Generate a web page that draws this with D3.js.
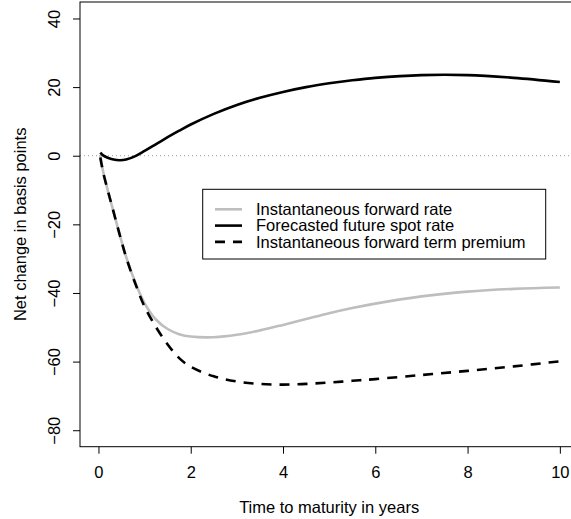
<!DOCTYPE html>
<html>
<head>
<meta charset="utf-8">
<script src="https://cdn.jsdelivr.net/npm/d3@7"></script>
<style>
  html, body { margin: 0; padding: 0; background: #fff; }
  text { font-family: "Liberation Sans", Arial, sans-serif; font-size: 16.5px; fill: #000; }
</style>
</head>
<body>
<svg id="chart"></svg>
<script>
// time to maturity (years)
var maturity = [0.04, 0.1, 0.2, 0.3, 0.46, 0.6, 0.8, 1, 1.25, 1.5, 1.75, 2, 2.5, 3, 3.5, 4, 4.5, 5, 5.5, 6, 7, 8, 9, 10];
// net change in basis points
var forwardRate = [0.3, -4.5, -10, -15, -23, -29.5, -37, -43, -47.8, -50.5, -52, -52.7, -52.9, -52.2, -50.9, -49.3, -47.6, -45.9, -44.4, -43.1, -41.0, -39.6, -38.8, -38.4];
var spotRate = [0.9, 0.1, -0.6, -1.0, -1.3, -1.1, -0.1, 1.4, 3.4, 5.4, 7.3, 9.1, 12.2, 14.8, 16.9, 18.6, 20.0, 21.1, 22.0, 22.7, 23.5, 23.5, 22.7, 21.5];
var termPremium = [-0.5, -4.7, -10, -15, -23, -29.6, -37.3, -44, -50, -55, -59, -61.5, -64.3, -65.8, -66.5, -66.7, -66.5, -66.1, -65.6, -65.1, -63.9, -62.7, -61.4, -59.9];

var xTicks = [0, 2, 4, 6, 8, 10];
var yTicks = [-80, -60, -40, -20, 0, 20, 40];
var legendLabels = ["Instantaneous forward rate", "Forecasted future spot rate", "Instantaneous forward term premium"];

const width = 571, height = 519;
const plot = {left: 80, right: 578.3, top: 2, bottom: 446.7};

var svg = d3.select("#chart")
  .attr("width", width)
  .attr("height", height)
  .attr("viewBox", [0, 0, width, height]);

var x = d3.scaleLinear().domain([-0.4, 10.4]).range([plot.left, plot.right]);
var y = d3.scaleLinear().domain([-84.8, 44.8]).range([plot.bottom, plot.top]);

// zero reference line
svg.append("line")
  .attr("x1", plot.left).attr("x2", plot.right)
  .attr("y1", y(0)).attr("y2", y(0))
  .attr("stroke", "#999")
  .attr("stroke-width", 1)
  .attr("stroke-dasharray", "1,3");

var series = [
  {name: legendLabels[0], values: forwardRate, color: "#bebebe", dash: null},
  {name: legendLabels[1], values: spotRate, color: "#000", dash: null},
  {name: legendLabels[2], values: termPremium, color: "#000", dash: "10,8"}
];

var line = d3.line()
  .x((d, i) => x(maturity[i]))
  .y(d => y(d))
  .curve(d3.curveCatmullRom.alpha(0.5));

svg.append("g")
  .selectAll("path")
  .data(series)
  .join("path")
  .attr("fill", "none")
  .attr("stroke", d => d.color)
  .attr("stroke-width", 2.6)
  .attr("stroke-dasharray", d => d.dash)
  .attr("d", d => line(d.values));

// box
svg.append("rect")
  .attr("x", plot.left).attr("y", plot.top)
  .attr("width", plot.right - plot.left)
  .attr("height", plot.bottom - plot.top)
  .attr("fill", "none")
  .attr("stroke", "#000")
  .attr("stroke-width", 1);

// x axis
var xAxis = svg.append("g")
  .attr("transform", `translate(0,${plot.bottom})`)
  .call(d3.axisBottom(x).tickValues(xTicks).tickSize(7).tickFormat(d3.format("d")));
xAxis.select(".domain").remove();
xAxis.selectAll("line").attr("stroke", "#000");
xAxis.selectAll("text")
  .attr("y", 31.5).attr("dy", null)
  .attr("font-size", 16.5)
  .attr("font-family", "Liberation Sans, Arial, sans-serif");

// y axis
var yAxis = svg.append("g")
  .attr("transform", `translate(${plot.left},0)`)
  .call(d3.axisLeft(y).tickValues(yTicks).tickSize(7).tickFormat(d => d < 0 ? "\u2212" + Math.abs(d) : d));
yAxis.select(".domain").remove();
yAxis.selectAll("line").attr("stroke", "#000");
yAxis.selectAll("text")
  .attr("x", null).attr("dy", null)
  .attr("text-anchor", "middle")
  .attr("transform", "translate(-20,0) rotate(-90)")
  .attr("font-size", 16.5)
  .attr("font-family", "Liberation Sans, Arial, sans-serif");

// axis titles
svg.append("text")
  .attr("x", x(5)).attr("y", 513)
  .attr("text-anchor", "middle")
  .text("Time to maturity in years");

svg.append("text")
  .attr("transform", `translate(26,${(plot.top + plot.bottom) / 2}) rotate(-90)`)
  .attr("text-anchor", "middle")
  .text("Net change in basis points");

// legend
var legend = svg.append("g");
legend.append("rect")
  .attr("x", 202.7).attr("y", 189.3)
  .attr("width", 343).attr("height", 69.7)
  .attr("fill", "#fff")
  .attr("stroke", "#000")
  .attr("stroke-width", 1);

var rows = legend.selectAll("g.row")
  .data(series)
  .join("g")
  .attr("class", "row")
  .attr("transform", (d, i) => `translate(0,${209.3 + i * 16.3})`);
rows.append("line")
  .attr("x1", 215).attr("x2", 242)
  .attr("stroke", d => d.color)
  .attr("stroke-width", 2.6)
  .attr("stroke-dasharray", d => d.dash);
rows.append("text")
  .attr("x", 256).attr("y", 5.6)
  .text(d => d.name);
</script>
</body>
</html>
